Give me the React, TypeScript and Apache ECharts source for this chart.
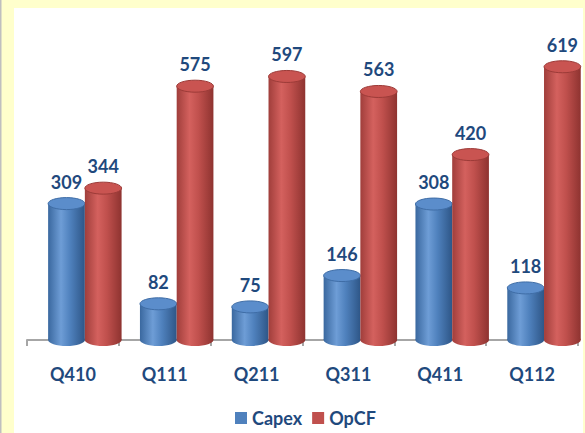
import React, { useEffect, useRef } from "react";
import * as echarts from "echarts";

const categories = ["Q410", "Q111", "Q211", "Q311", "Q411", "Q112"];
const capex = [309, 82, 75, 146, 308, 118];
const opcf = [344, 575, 597, 563, 420, 619];
const seriesNames = ["Capex", "OpCF"];

const palettes = [
  { base: "#4F81BD", edgeL: "#3A689F", hi: "#6E9DD6", edgeR: "#2E5687", top: "#5B8DCB", rim: "#3F6DA6" },
  { base: "#C0504D", edgeL: "#A03E3B", hi: "#D4615E", edgeR: "#8E3330", top: "#C95451", rim: "#9C3B38" },
];

function makeRender(si: number) {
  const p = palettes[si];
  return (params: any, api: any) => {
    const idx = api.value(0);
    const val = api.value(1);
    const base = api.coord([idx, 0]);
    const top = api.coord([idx, val]);
    const bw = api.size([1, 0])[0];
    const w = bw * 0.4;
    const shift = bw * 0.13;
    const cx = base[0] + shift + (si === 0 ? -w / 2 : w / 2);
    const ry = 6;
    const grad = new echarts.graphic.LinearGradient(0, 0, 1, 0, [
      { offset: 0, color: p.edgeL },
      { offset: 0.35, color: p.hi },
      { offset: 0.6, color: p.base },
      { offset: 1, color: p.edgeR },
    ]);
    return {
      type: "group",
      children: [
        {
          type: "ellipse",
          shape: { cx, cy: base[1], rx: w / 2, ry },
          style: { fill: grad },
        },
        {
          type: "rect",
          shape: { x: cx - w / 2, y: top[1], width: w, height: base[1] - top[1] },
          style: { fill: grad },
        },
        {
          type: "ellipse",
          shape: { cx, cy: top[1], rx: w / 2, ry },
          style: { fill: p.top, stroke: p.rim, lineWidth: 1 },
        },
        {
          type: "text",
          style: {
            text: String(val),
            x: cx,
            y: top[1] - 13,
            align: "center",
            verticalAlign: "bottom",
            fill: "#1F497D",
            font: "bold 18px Lato",
          },
        },
      ],
    };
  };
}

export default function App() {
  const ref = useRef<HTMLDivElement>(null);
  useEffect(() => {
    if (!ref.current) return;
    const chart = echarts.init(ref.current, null, { renderer: "svg" });
    const mk = (arr: number[]) => arr.map((v, i) => [i, v]);
    chart.setOption({
      animation: false,
      backgroundColor: "#FFFFCC",
      graphic: [
        { type: "rect", z: -1, shape: { x: 14, y: 8, width: 569, height: 425 }, style: { fill: "#FFFFFF" } },
        { type: "rect", z: -1, shape: { x: 0, y: 0, width: 1.5, height: 433 }, style: { fill: "#BFBFBF" } },
      ],
      grid: { left: 27, right: 7, top: 31, bottom: 93 },
      legend: {
        data: seriesNames,
        left: 235,
        top: 408,
        padding: 0,
        icon: "rect",
        itemWidth: 12,
        itemHeight: 12,
        itemGap: 10,
        textStyle: { color: "#1F497D", fontWeight: "bold", fontSize: 18, fontFamily: "Lato", lineHeight: 20 },
      },
      xAxis: {
        type: "category",
        data: categories,
        offset: 9,
        axisLine: { lineStyle: { color: "#A6A6A6", width: 2 } },
        axisTick: { show: true, length: 6, lineStyle: { color: "#A6A6A6", width: 2 } },
        axisLabel: { color: "#1F497D", fontWeight: "bold", fontSize: 18, fontFamily: "Lato", margin: 16 },
      },
      yAxis: { type: "value", min: 0, max: 700, show: false, splitLine: { show: false } },
      series: [
        { name: "Capex", type: "custom", renderItem: makeRender(0), data: mk(capex), itemStyle: { color: "#4F81BD" }, encode: { x: 0, y: 1 } },
        { name: "OpCF", type: "custom", renderItem: makeRender(1), data: mk(opcf), itemStyle: { color: "#C0504D" }, encode: { x: 0, y: 1 } },
      ],
    });
    return () => chart.dispose();
  }, []);
  return (
    <div style={{ position: "fixed", left: 0, top: 0, width: 585, height: 433 }}>
      <div ref={ref} style={{ width: 585, height: 433 }} />
    </div>
  );
}
